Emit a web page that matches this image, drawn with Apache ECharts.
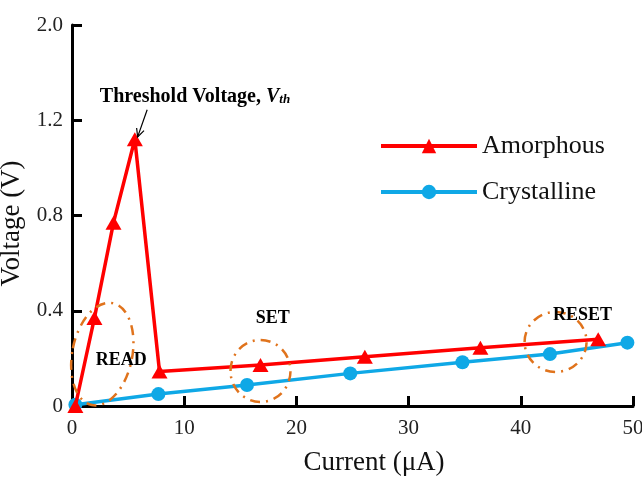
<!DOCTYPE html>
<html>
<head>
<meta charset="utf-8">
<script src="https://cdn.jsdelivr.net/npm/echarts@6/dist/echarts.min.js"></script>
<style>
  html, body { margin: 0; padding: 0; background: #fff; }
  #chart { width: 642px; height: 496px; }
</style>
</head>
<body>
<div id="chart"></div>
<script>
// data (current in uA, voltage in V)
var amorphousCurrent = [0.3, 2.0, 3.7, 5.6, 7.8, 16.8, 26.1, 36.4, 46.9];
var amorphousVoltage = [0.0, 0.37, 0.77, 1.12, 0.145, 0.172, 0.207, 0.245, 0.28];
var crystallineCurrent = [0.3, 7.7, 15.6, 24.8, 34.8, 42.6, 49.5];
var crystallineVoltage = [0.005, 0.05, 0.088, 0.137, 0.184, 0.218, 0.266];
var xTickLabels = ['0', '10', '20', '30', '40', '50'];
var yTickLabels = ['0', '0.4', '0.8', '1.2', '2.0'];

// annotations, placed in data units
var regions = [
    { name: 'READ', cx: 2.7, cy: 0.218, labelX: 4.4, labelY: 0.19 },
    { name: 'SET', cx: 16.8, cy: 0.147, labelX: 17.9, labelY: 0.37 },
    { name: 'RESET', cx: 43.1, cy: 0.269, labelX: 45.5, labelY: 0.382 }
];
var thresholdLabel = { x: 10.96, y: 1.30 };
var thresholdArrow = { fromX: 6.7, fromY: 1.244, toX: 5.85, toY: 1.13 };

var serif = 'Liberation Serif, Times New Roman, serif';

function pairs(xs, ys) {
    return xs.map(function (x, i) { return [x, ys[i]]; });
}

document.addEventListener('DOMContentLoaded', function () {
    var chartDom = document.getElementById('chart');
    var myChart = echarts.init(chartDom);

    var option = {
        animation: false,
        backgroundColor: '#fff',
        grid: { left: 72, right: 9, top: 25, bottom: 90, containLabel: false, outerBoundsMode: 'none' },
        legend: {
            orient: 'vertical',
            left: 374,
            top: 128,
            itemWidth: 96,
            itemHeight: 18,
            itemGap: 20,
            data: ['Amorphous', 'Crystalline'],
            lineStyle: { width: 4 },
            textStyle: { fontFamily: serif, fontSize: 26, color: '#111' }
        },
        xAxis: {
            type: 'value',
            min: 0,
            max: 50,
            interval: 10,
            name: 'Current (\u03bcA)',
            nameLocation: 'middle',
            nameGap: 43,
            nameTextStyle: { fontFamily: serif, fontSize: 27, color: '#111', padding: [0, 0, 0, 43] },
            axisLine: { lineStyle: { color: '#000', width: 3 } },
            axisTick: { inside: true, length: 10, lineStyle: { color: '#000', width: 3 } },
            axisLabel: {
                margin: 12,
                fontFamily: serif,
                fontSize: 21,
                color: '#222',
                formatter: function (v) { return xTickLabels[Math.round(v / 10)]; }
            },
            splitLine: { show: false }
        },
        yAxis: {
            type: 'value',
            min: 0,
            max: 1.6,
            interval: 0.4,
            name: 'Voltage (V)',
            nameLocation: 'middle',
            nameGap: 40,
            nameTextStyle: { fontFamily: serif, fontSize: 27, color: '#111', padding: [0, 16, 0, 0] },
            axisLine: { show: true, lineStyle: { color: '#000', width: 3 } },
            axisTick: { show: true, inside: true, length: 10, lineStyle: { color: '#000', width: 3 } },
            axisLabel: {
                margin: 9,
                fontFamily: serif,
                fontSize: 21,
                color: '#222',
                formatter: function (v) { return yTickLabels[Math.round(v / 0.4)]; }
            },
            splitLine: { show: false }
        },
        series: [
            {
                name: 'Crystalline',
                type: 'line',
                z: 2,
                symbol: 'circle',
                symbolSize: 14,
                color: '#0fa8e6',
                lineStyle: { color: '#0fa8e6', width: 3.5 },
                itemStyle: { color: '#0fa8e6' },
                data: pairs(crystallineCurrent, crystallineVoltage)
            },
            {
                name: 'Amorphous',
                type: 'line',
                z: 3,
                symbol: 'triangle',
                symbolSize: [16, 14],
                color: '#ff0000',
                lineStyle: { color: '#ff0000', width: 3.5 },
                itemStyle: { color: '#ff0000' },
                data: pairs(amorphousCurrent, amorphousVoltage)
            }
        ]
    };

    myChart.setOption(option);

    // annotations: dash-dot ellipses, region labels, threshold text and arrow
    function px(x, y) {
        return myChart.convertToPixel({ gridIndex: 0 }, [x, y]);
    }
    var ellipseSize = { READ: [30, 52, -0.2], SET: [30, 31, 0], RESET: [31, 30, 0] };
    var graphics = [];
    regions.forEach(function (r) {
        var c = px(r.cx, r.cy);
        var s = ellipseSize[r.name];
        graphics.push({
            type: 'ellipse',
            x: c[0], y: c[1],
            rotation: s[2],
            shape: { cx: 0, cy: 0, rx: s[0], ry: s[1] },
            style: { fill: null, stroke: '#e0731c', lineWidth: 2.5, lineDash: [10, 6, 2, 6] },
            z: 10
        });
        var l = px(r.labelX, r.labelY);
        graphics.push({
            type: 'text',
            x: l[0], y: l[1],
            style: {
                text: r.name,
                fontFamily: serif,
                fontWeight: 'bold',
                fontSize: 18,
                fill: '#000',
                align: 'center',
                verticalAlign: 'middle'
            },
            z: 11
        });
    });

    var t = px(thresholdLabel.x, thresholdLabel.y);
    graphics.push({
        type: 'text',
        x: t[0], y: t[1],
        style: {
            text: '{a|Threshold Voltage, }{v|V}{s|th}',
            align: 'center',
            verticalAlign: 'middle',
            rich: {
                a: { fontFamily: serif, fontWeight: 'bold', fontSize: 20, fill: '#000' },
                v: { fontFamily: serif, fontWeight: 'bold', fontStyle: 'italic', fontSize: 20, fill: '#000' },
                s: { fontFamily: serif, fontWeight: 'bold', fontStyle: 'italic', fontSize: 13, fill: '#000', verticalAlign: 'bottom', padding: [6, 0, 0, 0] }
            }
        },
        z: 11
    });

    var a0 = px(thresholdArrow.fromX, thresholdArrow.fromY);
    var a1 = px(thresholdArrow.toX, thresholdArrow.toY);
    var ang = Math.atan2(a0[1] - a1[1], a0[0] - a1[0]);
    var head = 9, spread = 0.45;
    graphics.push({
        type: 'line',
        shape: { x1: a0[0], y1: a0[1], x2: a1[0], y2: a1[1] },
        style: { stroke: '#000', lineWidth: 1.2 },
        z: 11
    });
    graphics.push({
        type: 'polyline',
        shape: {
            points: [
                [a1[0] + head * Math.cos(ang - spread), a1[1] + head * Math.sin(ang - spread)],
                [a1[0], a1[1]],
                [a1[0] + head * Math.cos(ang + spread), a1[1] + head * Math.sin(ang + spread)]
            ]
        },
        style: { stroke: '#000', lineWidth: 1.2, fill: null },
        z: 11
    });

    myChart.setOption({ graphic: graphics });
});
</script>
</body>
</html>
